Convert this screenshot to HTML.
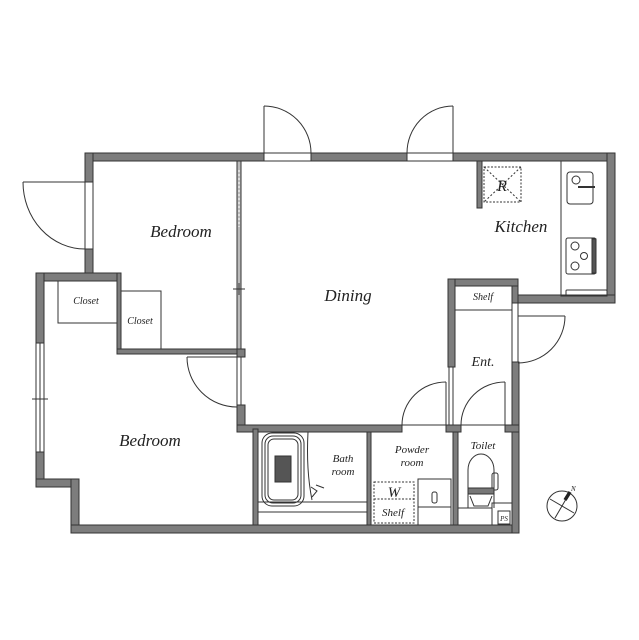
<!DOCTYPE html>
<html><head><meta charset="utf-8"><style>
html,body{margin:0;padding:0;background:#fff;}
svg{display:block}
text{font-family:"Liberation Serif",serif;font-style:italic;fill:#222}
</style></head><body>
<svg width="639" height="640" viewBox="0 0 639 640" xmlns="http://www.w3.org/2000/svg">
<g fill="#7d7d7d" stroke="#333" stroke-width="1">
<!-- top wall -->
<rect x="85" y="153" width="179" height="8"/>
<rect x="311" y="153" width="96" height="8"/>
<rect x="453" y="153" width="162" height="8"/>
<!-- left bedroom1 -->
<rect x="85" y="153" width="8" height="29"/>
<rect x="85" y="249" width="8" height="32"/>
<rect x="36" y="273" width="85" height="8"/>
<rect x="36" y="273" width="8" height="70"/>
<rect x="36" y="452" width="8" height="35"/>
<rect x="36" y="479" width="43" height="8"/>
<rect x="71" y="479" width="8" height="54"/>
<rect x="71" y="525" width="448" height="8"/>
<!-- right -->
<rect x="607" y="153" width="8" height="150"/>
<rect x="512" y="295" width="103" height="8"/>
<rect x="512" y="279" width="6" height="24"/>
<rect x="448" y="279" width="70" height="7"/>
<rect x="448" y="279" width="7" height="88"/>
<rect x="512" y="362" width="7" height="171"/>
<!-- closets -->
<rect x="117" y="273" width="4" height="81"/>
<rect x="117" y="349" width="124" height="5"/>
<!-- dining left -->
<rect x="237" y="349" width="8" height="8"/>
<rect x="237" y="405" width="8" height="27"/>
<!-- middle -->
<rect x="237" y="425" width="165" height="7"/>
<rect x="446" y="425" width="15" height="7"/>
<rect x="505" y="425" width="14" height="7"/>
<rect x="253" y="429" width="5" height="96"/>
<rect x="367" y="432" width="4" height="93"/>
<rect x="453" y="432" width="5" height="93"/>
<rect x="477" y="161" width="5" height="47"/>
</g>
<g fill="none" stroke="#333" stroke-width="1">
<!-- thin partitions -->
<rect x="237" y="161" width="4" height="188" fill="#bbb"/>
<line x1="239" y1="170" x2="239" y2="227" stroke="#fff" stroke-dasharray="2 2"/>
<line x1="233" y1="289" x2="245" y2="289"/><line x1="239" y1="283" x2="239" y2="295"/>
<rect x="449" y="367" width="4" height="58"/>
<!-- window -->
<rect x="36" y="343" width="8" height="109"/><line x1="40" y1="343" x2="40" y2="452"/>
<line x1="32" y1="399" x2="48" y2="399"/>
<!-- door openings frames -->
<line x1="264" y1="153" x2="311" y2="153"/><line x1="264" y1="161" x2="311" y2="161"/>
<line x1="407" y1="153" x2="453" y2="153"/><line x1="407" y1="161" x2="453" y2="161"/>
<line x1="85" y1="182" x2="85" y2="249"/><line x1="93" y1="182" x2="93" y2="249"/>
<line x1="512" y1="303" x2="512" y2="362"/><line x1="518" y1="303" x2="518" y2="362"/>
<line x1="237" y1="357" x2="237" y2="405"/><line x1="241" y1="357" x2="241" y2="405"/>
<line x1="402" y1="425" x2="446" y2="425"/><line x1="461" y1="425" x2="505" y2="425"/>
<!-- doors -->
<line x1="264" y1="106" x2="264" y2="153"/><path d="M264 106 A47 47 0 0 1 311 153"/>
<line x1="453" y1="106" x2="453" y2="153"/><path d="M453 106 A46 47 0 0 0 407 153"/>
<line x1="23" y1="182" x2="85" y2="182"/><path d="M23 182 A62 67 0 0 0 85 249"/>
<line x1="518" y1="316" x2="565" y2="316"/><path d="M565 316 A47 47 0 0 1 518 363"/>
<line x1="187" y1="357" x2="237" y2="357"/><path d="M187 357 A50 50 0 0 0 237 407"/>
<line x1="446" y1="382" x2="446" y2="425"/><path d="M446 382 A44 43 0 0 0 402 425"/>
<line x1="505" y1="382" x2="505" y2="425"/><path d="M505 382 A44 43 0 0 0 461 425"/>
<!-- closets -->
<rect x="58" y="281" width="59" height="42"/>
<rect x="121" y="291" width="40" height="58"/>
<!-- kitchen -->
<rect x="561" y="161" width="46" height="135"/>
<rect x="567" y="172" width="26" height="32" rx="3"/>
<circle cx="576" cy="180" r="4"/><line x1="578" y1="187" x2="595" y2="187" stroke-width="2"/>
<rect x="566" y="238" width="30" height="36" rx="2"/>
<rect x="592" y="239" width="4" height="34" fill="#555"/>
<circle cx="575" cy="246" r="4"/><circle cx="584" cy="256" r="3.5"/><circle cx="575" cy="266" r="4"/>
<rect x="566" y="290" width="41" height="6" rx="1"/>
<rect x="484" y="167" width="37" height="35" stroke-dasharray="2 1.5"/>
<line x1="484" y1="167" x2="521" y2="202" stroke-dasharray="2 2"/><line x1="521" y1="167" x2="484" y2="202" stroke-dasharray="2 2"/>
<!-- shelf -->
<line x1="455" y1="310" x2="512" y2="310"/>
<!-- bath -->
<rect x="262" y="433" width="42" height="73" rx="10"/>
<rect x="265" y="436" width="36" height="67" rx="8"/>
<rect x="268" y="439" width="30" height="61" rx="6"/>
<rect x="275" y="456" width="16" height="26" fill="#555"/>
<line x1="258" y1="502" x2="367" y2="502"/><line x1="258" y1="512" x2="367" y2="512"/>
<path d="M311 487 l6 4 l-5 6 m4 -12 l8 3"/>
<path d="M308 432 Q306 470 312 500"/>
<!-- powder -->
<rect x="374" y="482" width="40" height="41" stroke-dasharray="2 1.5"/>
<line x1="374" y1="499" x2="414" y2="499" stroke-dasharray="2 1.5"/>
<rect x="418" y="479" width="33" height="28"/>
<rect x="418" y="507" width="33" height="18"/>
<rect x="432" y="492" width="5" height="11" rx="2"/>
<!-- toilet -->
<path d="M468 508 L468 470 A13 16 0 0 1 494 470 L494 508"/>
<rect x="492" y="473" width="6" height="17" rx="2"/>
<rect x="468" y="488" width="26" height="6" fill="#777"/>
<path d="M470 496 l4 10 h14 l4 -10"/>
<rect x="458" y="508" width="34" height="17"/>
<path d="M492 508 v-5 h20"/>
<rect x="498" y="511" width="12" height="13"/>
<!-- compass -->
<circle cx="562" cy="506" r="15"/>
<line x1="550" y1="499" x2="574" y2="513"/><line x1="555" y1="518" x2="569" y2="494"/>
<line x1="565" y1="500" x2="570" y2="492" stroke-width="3.5" stroke="#222"/>
</g>
<text x="181" y="237" font-size="17" text-anchor="middle">Bedroom</text>
<text x="348" y="301" font-size="17" text-anchor="middle">Dining</text>
<text x="521" y="232" font-size="17" text-anchor="middle">Kitchen</text>
<text x="150" y="446" font-size="17" text-anchor="middle">Bedroom</text>
<text x="502" y="191" font-size="16" text-anchor="middle">R</text>
<text x="86" y="304" font-size="10" text-anchor="middle">Closet</text>
<text x="140" y="324" font-size="10" text-anchor="middle">Closet</text>
<text x="483" y="300" font-size="10" text-anchor="middle">Shelf</text>
<text x="483" y="366" font-size="14" text-anchor="middle">Ent.</text>
<text x="343" y="462" font-size="11" text-anchor="middle">Bath</text>
<text x="343" y="475" font-size="11" text-anchor="middle">room</text>
<text x="412" y="453" font-size="11" text-anchor="middle">Powder</text>
<text x="412" y="466" font-size="11" text-anchor="middle">room</text>
<text x="483" y="449" font-size="11" text-anchor="middle">Toilet</text>
<text x="394" y="497" font-size="15" text-anchor="middle">W</text>
<text x="393" y="516" font-size="11" text-anchor="middle">Shelf</text>
<text x="504" y="521" font-size="7" text-anchor="middle">PS</text>
<text x="571" y="491" font-size="7">N</text>
</svg>
</body></html>
